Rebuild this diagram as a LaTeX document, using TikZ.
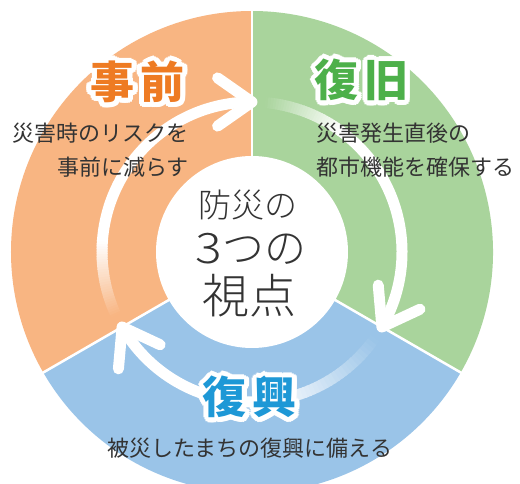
\documentclass[tikz,border=0pt]{standalone}
\usepackage{fontspec}
\usepackage{graphicx}
\newfontfamily\jp{Noto Sans CJK JP}
\newfontfamily\jplight{Noto Sans CJK JP Light}
\usetikzlibrary{calc}
\definecolor{secO}{HTML}{F8B582}
\definecolor{secG}{HTML}{A9D49C}
\definecolor{secB}{HTML}{9AC4E8}
\definecolor{ttlO}{HTML}{EE7B23}
\definecolor{ttlG}{HTML}{4DB04A}
\definecolor{ttlB}{HTML}{1E98D6}
\definecolor{txt}{HTML}{333333}
\tikzset{
  ring/.style={line width=11},
  ttl/.style={inner sep=0, font=\jp\bfseries\fontsize{44}{48}\selectfont},
  body/.style={inner sep=0, text=txt, font=\jp\fontsize{22}{26}\selectfont},
  hubtxt/.style={inner sep=0, text=txt},
}
\newcommand\halotext[4]{%
  \foreach \r in {2.5,5}{\foreach \a in {0,22.5,...,337.5}{\node[ttl,text=white] at ([shift={(\a:\r)}]#2) {#4};}}%
  \node[ttl,text=#3] (#1) at (#2) {#4};%
}
\newcommand\ringarrow[4]{%
  \foreach \i in {0,...,29}{%
    \pgfmathsetmacro\aa{#1+(#2-#1)*\i/30}%
    \pgfmathsetmacro\bb{#1+(#2-#1)*(\i+1.4)/30}%
    \pgfmathtruncatemacro\pc{100*(\i+0.5)/30}%
    \draw[ring, draw=white!\pc!#4] (\aa:150) arc[start angle=\aa, end angle=\bb, radius=150];
  }%
  \draw[ring, draw=white] (#2:150) arc[start angle=#2, end angle=#3, radius=150];
  \draw[ring, draw=white, line cap=round, line join=round] ($(#3:150)+(#3+55:42)$) -- (#3:150) -- ($(#3:150)+(#3+125:42)$);
}
\begin{document}
\begin{tikzpicture}[x=1pt,y=1pt]
\useasboundingbox (-252,-232) rectangle (268,252);
\clip (-252,-232) rectangle (268,252);
\fill[white] (-252,-232) rectangle (268,252);
\def\Ro{241}
\fill[secO] (0,0) -- (90:\Ro) arc[start angle=90,end angle=210,radius=\Ro] -- cycle;
\fill[secG] (0,0) -- (-30:\Ro) arc[start angle=-30,end angle=90,radius=\Ro] -- cycle;
\fill[secB] (0,0) -- (210:\Ro) arc[start angle=210,end angle=330,radius=\Ro] -- cycle;
\foreach \a in {90,210,330} \draw[white, line width=2.5] (0,0) -- (\a:\Ro+2);
\node[circle, fill=white, minimum size=192, inner sep=0] (hub) at (0,0) {};
% ring arrows
\ringarrow{205}{176}{90}{secO}
\ringarrow{85}{54}{-30}{secG}
\ringarrow{-35}{-86}{-150}{secB}
% titles
\halotext{tA}{-114.5,170}{ttlO}{事\hspace{6pt}前}
\halotext{tB}{110,172}{ttlG}{復\hspace{6pt}旧}
\halotext{tC}{-2,-145}{ttlB}{復\hspace{6pt}興}
% body texts
\node[body, anchor=east] (a1) at (-63,119) {災害時のリスクを};
\node[body, anchor=east] (a2) at (-63,85) {事前に減らす};
\node[body, anchor=west] (b1) at (64,119) {災害発生直後の};
\node[body, anchor=west] (b2) at (64,85) {都市機能を確保する};
\node[body] (c1) at (-2,-196) {被災したまちの復興に備える};
% hub text
\node[hubtxt, font=\jplight\fontsize{33}{36}\selectfont] (h1) at (-4,47) {防災の};
\node[hubtxt, font=\jplight\fontsize{42}{46}\selectfont] (h2) at (-1,3) {\scalebox{1.18}[1]{3}つの};
\node[hubtxt, font=\jplight\fontsize{47}{50}\selectfont] (h3) at (-2,-44) {視点};
\end{tikzpicture}
\end{document}
